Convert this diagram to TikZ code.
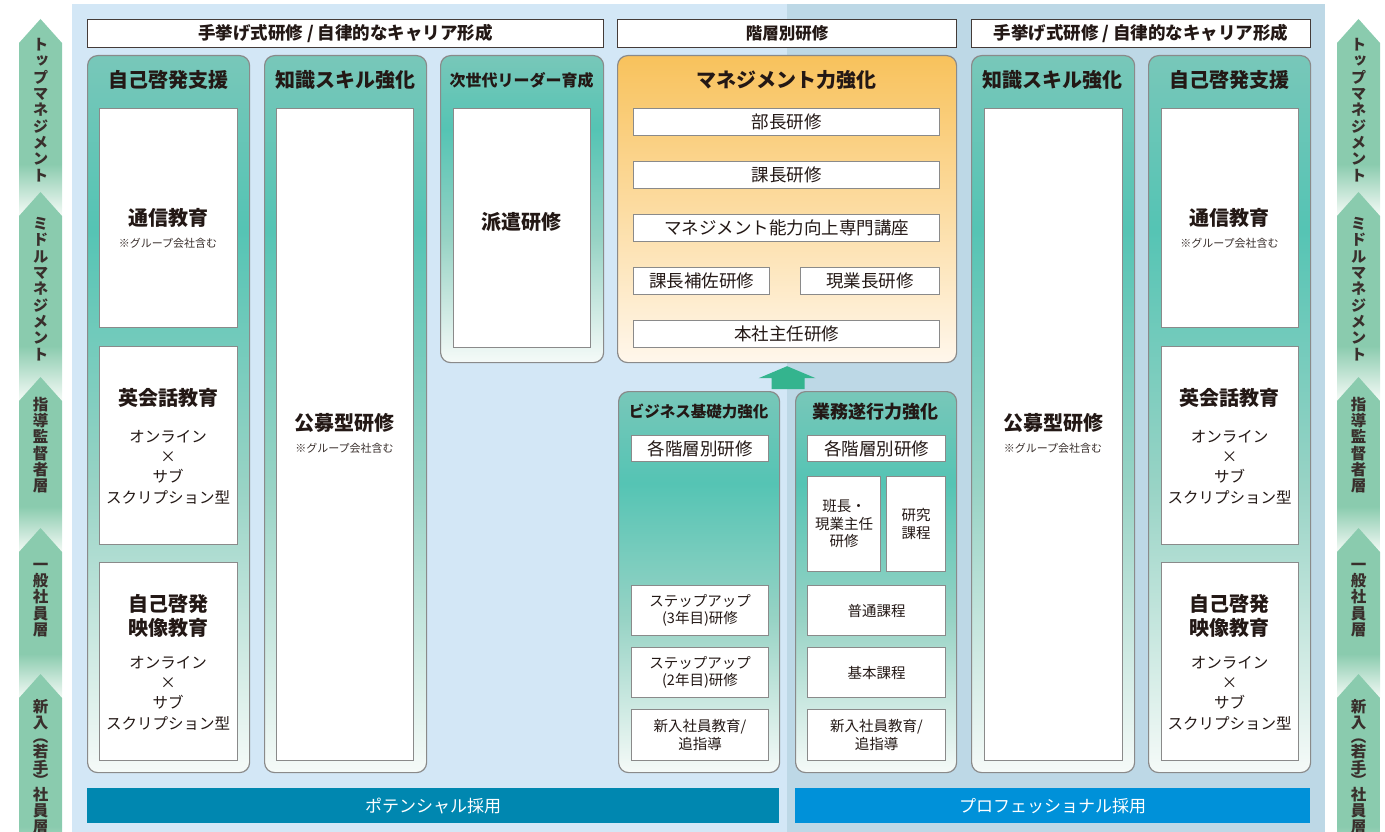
\documentclass[tikz,border=0pt]{standalone}
\usepackage{fontspec}
\setmainfont{Noto Sans CJK JP}
\newfontfamily\jpv[RawFeature=+vert]{Noto Sans CJK JP}
\usetikzlibrary{calc}
\definecolor{bgl}{HTML}{D3E7F6}
\definecolor{bgr}{HTML}{BDD8E6}
\definecolor{ctop}{HTML}{78C7B9}
\definecolor{cstrong}{HTML}{55C4B4}
\definecolor{cmid}{HTML}{98D3C5}
\definecolor{cbot}{HTML}{F5FAF8}
\definecolor{otop}{HTML}{F8C25C}
\definecolor{omid}{HTML}{FCDCA2}
\definecolor{obot}{HTML}{FFF7EC}
\definecolor{sgreen}{HTML}{8ACBAE}
\definecolor{sbot}{HTML}{F4FAF6}
\definecolor{bord}{HTML}{8A8A8A}
\definecolor{ink}{HTML}{231815}
\definecolor{potc}{HTML}{0087B0}
\definecolor{proc}{HTML}{0091D9}
\definecolor{upg}{HTML}{34B48E}
\pgfdeclareverticalshading{colfade}{100bp}{color(0bp)=(cbot); color(25bp)=(cbot); color(45bp)=(cmid); color(63bp)=(cstrong); color(75bp)=(ctop); color(100bp)=(ctop)}
\pgfdeclareverticalshading{orfade}{100bp}{color(0bp)=(obot); color(25bp)=(obot); color(50bp)=(omid); color(75bp)=(otop); color(100bp)=(otop)}
\pgfdeclareverticalshading{sidefade}{100bp}{color(0bp)=(sbot); color(25bp)=(sbot); color(38bp)=(sgreen); color(100bp)=(sgreen)}
\tikzset{
  colbox/.style={draw=bord, line width=1.2pt, rounded corners=10pt, shading=colfade, anchor=north west, inner sep=0pt},
  orbox/.style={colbox, shading=orfade},
  wbox/.style={draw=bord, line width=1pt, fill=white, anchor=north west, inner sep=0pt, text=ink},
  hdrbox/.style={draw=ink!85, line width=1.2pt, fill=white, anchor=north west, inner sep=0pt},
  barbox/.style={anchor=north west, inner sep=0pt},
  ttl/.style={font=\fontsize{20}{24}\selectfont\bfseries, text=ink, inner sep=0pt, align=center},
  note/.style={font=\fontsize{11}{13}\selectfont, text=ink!90, inner sep=0pt},
  body/.style={font=\fontsize{15.5}{20.3}\selectfont, text=ink, inner sep=0pt, align=center},
  item/.style={font=\fontsize{17.5}{21}\selectfont},
  small/.style={font=\fontsize{14.5}{17.5}\selectfont, align=center},
  hdr/.style={font=\fontsize{17.5}{20}\selectfont\bfseries, text=ink},
  side/.style={font=\jpv\fontsize{15.5}{16.3}\selectfont\bfseries, text=ink!90, inner sep=0pt, align=center},
  bartxt/.style={font=\fontsize{17}{20}\selectfont, text=white},
  sidearrow/.style={shading=sidefade}
}
\begin{document}
\begin{tikzpicture}[x=1pt,y=-1pt]
\useasboundingbox (0,0) rectangle (1385,832);
% background panels
\fill[bgl] (72,4) rectangle (787,832);
\fill[bgr] (787,4) rectangle (1325,832);

% side arrows (left)
\shade[sidearrow] (19,43) -- (40.5,19) -- (62,43) -- (62,215) -- (19,215) -- cycle;
\shade[sidearrow] (19,216) -- (40.5,192) -- (62,216) -- (62,400) -- (19,400) -- cycle;
\shade[sidearrow] (19,401) -- (40.5,377) -- (62,401) -- (62,552) -- (19,552) -- cycle;
\shade[sidearrow] (19,552) -- (40.5,528) -- (62,552) -- (62,698) -- (19,698) -- cycle;
\shade[sidearrow] (19,698) -- (40.5,674) -- (62,698) -- (62,880) -- (19,880) -- cycle;
\node[side] (l1) at (40.5,110) {ト\\ッ\\プ\\マ\\ネ\\ジ\\メ\\ン\\ト};
\node[side] (l2) at (40.5,289) {ミ\\ド\\ル\\マ\\ネ\\ジ\\メ\\ン\\ト};
\node[side] (l3) at (40.5,445) {指\\導\\監\\督\\者\\層};
\node[side] (l4) at (40.5,600) {一\\般\\社\\員\\層};
\node[side, anchor=north] (l5) at (40.5,699) {新\\入\\[-2pt]（\\[-2pt]若\\手\\[-3pt]）\\[-3pt]社\\員\\層};
% side arrows (right)
\shade[sidearrow] (1337,43) -- (1358.5,19) -- (1380,43) -- (1380,215) -- (1337,215) -- cycle;
\shade[sidearrow] (1337,216) -- (1358.5,192) -- (1380,216) -- (1380,400) -- (1337,400) -- cycle;
\shade[sidearrow] (1337,401) -- (1358.5,377) -- (1380,401) -- (1380,552) -- (1337,552) -- cycle;
\shade[sidearrow] (1337,552) -- (1358.5,528) -- (1380,552) -- (1380,698) -- (1337,698) -- cycle;
\shade[sidearrow] (1337,698) -- (1358.5,674) -- (1380,698) -- (1380,880) -- (1337,880) -- cycle;
\node[side] (r1) at (1358.5,110) {ト\\ッ\\プ\\マ\\ネ\\ジ\\メ\\ン\\ト};
\node[side] (r2) at (1358.5,289) {ミ\\ド\\ル\\マ\\ネ\\ジ\\メ\\ン\\ト};
\node[side] (r3) at (1358.5,445) {指\\導\\監\\督\\者\\層};
\node[side] (r4) at (1358.5,600) {一\\般\\社\\員\\層};
\node[side, anchor=north] (r5) at (1358.5,699) {新\\入\\[-2pt]（\\[-2pt]若\\手\\[-3pt]）\\[-3pt]社\\員\\層};

% headers
\node[hdrbox, hdr, minimum width=516pt, minimum height=28pt] (h1) at (87,19) {手挙げ式研修 / 自律的なキャリア形成};
\node[hdrbox, hdr, font=\fontsize{16.5}{20}\selectfont\bfseries, minimum width=339pt, minimum height=28pt] (h2) at (617,19) {階層別研修};
\node[hdrbox, hdr, minimum width=339pt, minimum height=28pt] (h3) at (971,19) {手挙げ式研修 / 自律的なキャリア形成};

% columns
\node[colbox, minimum width=162pt, minimum height=717pt] (c1) at (87,55) {};
\node[colbox, minimum width=162pt, minimum height=717pt] (c2) at (264,55) {};
\node[colbox, minimum width=163pt, minimum height=307pt] (c3) at (440,55) {};
\node[orbox, minimum width=339pt, minimum height=307pt] (c4) at (617,55) {};
\node[colbox, minimum width=161pt, minimum height=381pt] (c5) at (618,391) {};
\node[colbox, minimum width=161pt, minimum height=381pt] (c6) at (795,391) {};
\node[colbox, minimum width=163pt, minimum height=717pt] (c7) at (971,55) {};
\node[colbox, minimum width=162pt, minimum height=717pt] (c8) at (1148,55) {};

% column titles
\node[ttl] (t1) at (168,80) {自己啓発支援};
\node[ttl] (t2) at (345,80) {知識スキル強化};
\node[ttl, font=\fontsize{16}{20}\selectfont\bfseries] (t3) at (521.5,80) {次世代リーダー育成};
\node[ttl] (t4) at (786.5,80) {マネジメント力強化};
\node[ttl, font=\fontsize{15.5}{20}\selectfont\bfseries] (t5) at (698.5,412) {ビジネス基礎力強化};
\node[ttl, font=\fontsize{18}{22}\selectfont\bfseries] (t6) at (875.5,412) {業務遂行力強化};
\node[ttl] (t7) at (1052.5,80) {知識スキル強化};
\node[ttl] (t8) at (1229,80) {自己啓発支援};

% column 1 contents
\node[wbox, minimum width=138pt, minimum height=219pt] (b11) at (99,108) {};
\node[wbox, minimum width=138pt, minimum height=198pt] (b12) at (99,346) {};
\node[wbox, minimum width=138pt, minimum height=198pt] (b13) at (99,562) {};
\node[ttl] (b11t) at (168,218) {通信教育};
\node[note] (b11n) at (168,243) {※グループ会社含む};
\node[ttl] (b12t) at (168,398) {英会話教育};
\node[body] (b12b) at (168,467) {オンライン\\×\\サブ\\スクリプション型};
\node[ttl] (b13t) at (168,615.5) {自己啓発\\映像教育};
\node[body] (b13b) at (168,693) {オンライン\\×\\サブ\\スクリプション型};

% column 2 contents
\node[wbox, minimum width=137pt, minimum height=652pt] (b21) at (276,108) {};
\node[ttl] (b21t) at (344.5,423) {公募型研修};
\node[note] (b21n) at (344.5,448) {※グループ会社含む};

% column 3 contents
\node[wbox, minimum width=137pt, minimum height=239pt] (b31) at (453,108) {};
\node[ttl] (b31t) at (521.5,222) {派遣研修};

% management contents
\node[wbox, item, minimum width=306pt, minimum height=27pt] (m1) at (633,108) {部長研修};
\node[wbox, item, minimum width=306pt, minimum height=27pt] (m2) at (633,161) {課長研修};
\node[wbox, item, minimum width=306pt, minimum height=27pt] (m3) at (633,214) {マネジメント能力向上専門講座};
\node[wbox, item, minimum width=136pt, minimum height=27pt] (m4) at (633,267) {課長補佐研修};
\node[wbox, item, minimum width=139pt, minimum height=27pt] (m5) at (800,267) {現業長研修};
\node[wbox, item, minimum width=306pt, minimum height=27pt] (m6) at (633,320) {本社主任研修};

% up arrow
\fill[upg] ($(c4.south)+(-15.5,26)$) -- ++(0,-11) -- ++(-13,0) -- ($(c4.south)+(0,3)$) -- ($(c4.south)+(28.5,15)$) -- ++(-11,0) -- ++(0,11) -- cycle;

% business basics
\node[wbox, item, minimum width=137pt, minimum height=26pt] (p1) at (631,435) {各階層別研修};
\node[wbox, small, minimum width=137pt, minimum height=50pt] (p2) at (631,585) {ステップアップ\\(3年目)研修};
\node[wbox, small, minimum width=137pt, minimum height=50pt] (p3) at (631,647) {ステップアップ\\(2年目)研修};
\node[wbox, small, minimum width=137pt, minimum height=51pt] (p4) at (631,709) {新入社員教育/\\追指導};

% operations
\node[wbox, item, minimum width=138pt, minimum height=26pt] (q1) at (807,435) {各階層別研修};
\node[wbox, small, minimum width=73pt, minimum height=95pt] (q2) at (807,476) {班長・\\現業主任\\研修};
\node[wbox, small, minimum width=59pt, minimum height=95pt] (q3) at (886,476) {研究\\課程};
\node[wbox, small, minimum width=138pt, minimum height=50pt] (q4) at (807,585) {普通課程};
\node[wbox, small, minimum width=138pt, minimum height=50pt] (q5) at (807,647) {基本課程};
\node[wbox, small, minimum width=138pt, minimum height=51pt] (q6) at (807,709) {新入社員教育/\\追指導};

% column 7 contents
\node[wbox, minimum width=138pt, minimum height=652pt] (b71) at (984,108) {};
\node[ttl] (b71t) at (1053,423) {公募型研修};
\node[note] (b71n) at (1053,448) {※グループ会社含む};

% column 8 contents
\node[wbox, minimum width=137pt, minimum height=219pt] (b81) at (1161,108) {};
\node[wbox, minimum width=137pt, minimum height=198pt] (b82) at (1161,346) {};
\node[wbox, minimum width=137pt, minimum height=198pt] (b83) at (1161,562) {};
\node[ttl] (b81t) at (1229.5,218) {通信教育};
\node[note] (b81n) at (1229.5,243) {※グループ会社含む};
\node[ttl] (b82t) at (1229.5,398) {英会話教育};
\node[body] (b82b) at (1229.5,467) {オンライン\\×\\サブ\\スクリプション型};
\node[ttl] (b83t) at (1229.5,615.5) {自己啓発\\映像教育};
\node[body] (b83b) at (1229.5,693) {オンライン\\×\\サブ\\スクリプション型};

% bottom bars
\node[barbox, fill=potc, bartxt, minimum width=692pt, minimum height=35pt] (pot) at (87,788) {ポテンシャル採用};
\node[barbox, fill=proc, bartxt, minimum width=515pt, minimum height=35pt] (pro) at (795,788) {プロフェッショナル採用};
\end{tikzpicture}
\end{document}
